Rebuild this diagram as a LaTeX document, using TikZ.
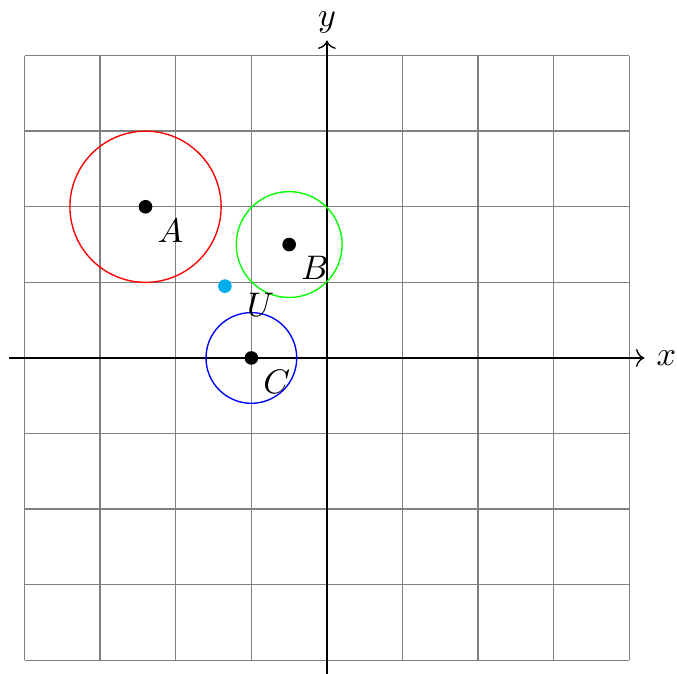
\documentclass[tikz,border=0pt]{standalone}
\usepackage{amsmath,amssymb}
\usetikzlibrary{arrows.meta,positioning}
\definecolor{ptcyan}{HTML}{00AEEF}
\tikzset{
  dot/.style={circle,fill=black,inner sep=0pt,minimum size=4pt},
  udot/.style={circle,fill=ptcyan,inner sep=0pt,minimum size=4pt},
  axis/.style={->,black},
  gridline/.style={gray,thin}
}

\begin{document}
\begin{tikzpicture}[scale=0.78]
  \useasboundingbox (-4.325,-4.18) rectangle (4.63,4.735);
  \draw[gridline] (-4,-4) grid (4,4);
  \draw[axis] (-4.2,0) -- (4.2,0) node[right] (xlab) {$x$};
  \draw[axis] (0,-4.2) -- (0,4.2) node[above,inner sep=2pt] (ylab) {$y$};
  % points and their disks
  \node[dot] (ptA) at (-2.4,2) {};
  \node[dot] (ptB) at (-0.5,1.5) {};
  \node[dot] (ptC) at (-1,0) {};
  \node[udot] (ptU) at (-1.35,0.95) {};
  \draw[red] (ptA.center) circle (1);
  \draw[green] (ptB.center) circle (0.7);
  \draw[blue] (ptC.center) circle (0.6);
  \node[below right=0mm of ptA.center] (labA) {$A$};
  \node[below right=0mm of ptB.center] (labB) {$B$};
  \node[below right=0mm of ptC.center] (labC) {$C$};
  \node[below right=0mm of ptU.center,xshift=3pt,yshift=1.5pt] (labU) {$U$};
\end{tikzpicture}
\end{document}
